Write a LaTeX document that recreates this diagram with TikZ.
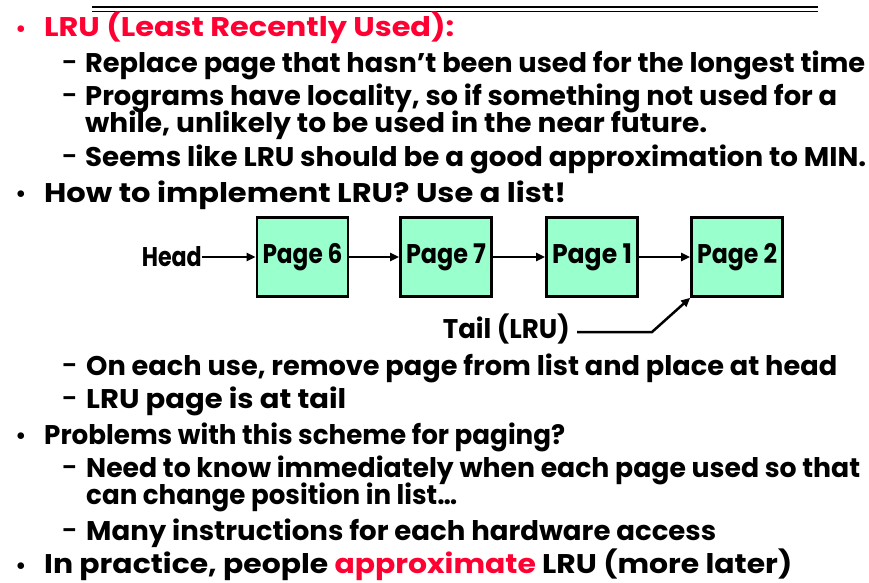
\documentclass[tikz,border=0pt]{standalone}
\usepackage{fontspec}
\setmainfont{Poppins}
\usetikzlibrary{arrows.meta}
\definecolor{slidered}{RGB}{255,0,51}
\definecolor{pagefill}{RGB}{153,255,204}
\newcommand\fitw[2]{\resizebox{#1pt}{\height}{#2}}
\begin{document}
\begin{tikzpicture}[x=1pt,y=-1pt,
  txt/.style={anchor=base west,inner sep=0pt,font=\bfseries\fontsize{27}{30}\selectfont},
  bul/.style={anchor=base,inner sep=0pt,font=\bfseries\fontsize{22}{22}\selectfont},
  dsh/.style={anchor=base west,inner sep=0pt,font=\bfseries\fontsize{21}{21}\selectfont},
  pagebox/.style={draw=black,line width=2.6pt,fill=pagefill,minimum width=91pt,minimum height=79pt,inner sep=0pt,font=\bfseries\fontsize{27}{30}\selectfont},
  link/.style={line width=2.5pt,-{Triangle[length=9pt,width=8pt]}}]
\useasboundingbox (0,0) rectangle (869,582);
\fill[white] (0,0) rectangle (869,582);
% top rule
\draw[line width=2pt] (92,7) -- (818,7);
\draw[line width=1pt] (92,11) -- (818,11);
% bullets
\node[bul,slidered] (b1) at (21,36) {•};
\node[bul] (b2) at (21,201) {•};
\node[bul] (b3) at (21,443) {•};
\node[bul] (b4) at (21,573) {•};
% dashes
\node[dsh] (d1) at (62,69) {–};
\node[dsh] (d2) at (62,102) {–};
\node[dsh] (d3) at (62,163) {–};
\node[dsh] (d4) at (62,372) {–};
\node[dsh] (d5) at (62,405) {–};
\node[dsh] (d6) at (62,474) {–};
\node[dsh] (d7) at (62,537) {–};
% text lines
\node[txt,slidered] (l1) at (44,36) {\fitw{410}{LRU (Least Recently Used):}};
\node[txt] (l2) at (85,72) {\fitw{780}{Replace page that hasn’t been used for the longest time}};
\node[txt] (l3) at (85,105) {\fitw{752}{Programs have locality, so if something not used for a}};
\node[txt] (l4) at (85,132) {\fitw{622}{while, unlikely to be used in the near future.}};
\node[txt] (l5) at (85,166) {\fitw{781}{Seems like LRU should be a good approximation to MIN.}};
\node[txt] (l6) at (44,202) {\fitw{522}{How to implement LRU? Use a list!}};
\node[txt] (l7) at (86,375) {\fitw{751}{On each use, remove page from list and place at head}};
\node[txt] (l8) at (86,408) {\fitw{260}{LRU page is at tail}};
\node[txt] (l9) at (44,444) {\fitw{521}{Problems with this scheme for paging?}};
\node[txt] (l10) at (86,477) {\fitw{774}{Need to know immediately when each page used so that}};
\node[txt] (l11) at (86,504) {\fitw{371}{can change position in list…}};
\node[txt] (l12) at (86,540) {\fitw{630}{Many instructions for each hardware access}};
\node[txt] (l13) at (44,573) {\fitw{748}{In practice, people \textcolor{slidered}{approximate} LRU (more later)}};
% diagram
\node[pagebox] (p6) at (302.5,257) {\fitw{80}{Page 6}};
\node[pagebox] (p7) at (446,257) {\fitw{80}{Page 7}};
\node[pagebox] (p1) at (592,257) {\fitw{80}{Page 1}};
\node[pagebox] (p2) at (737,257) {\fitw{80}{Page 2}};
\node[txt,anchor=east] (head) at (202,257) {\fitw{60}{Head}};
\node[txt,anchor=east] (tail) at (570,329) {\fitw{127}{Tail (LRU)}};
\coordinate (bend) at (652,332);
\draw[link] (head.east) -- (p6.west);
\draw[link] (p6.east) -- (p7.west);
\draw[link] (p7.east) -- (p1.west);
\draw[link] (p1.east) -- (p2.west);
\draw[link] ([xshift=7pt]tail.east |- bend) -- (bend) -- (p2.south west);
\end{tikzpicture}
\end{document}
